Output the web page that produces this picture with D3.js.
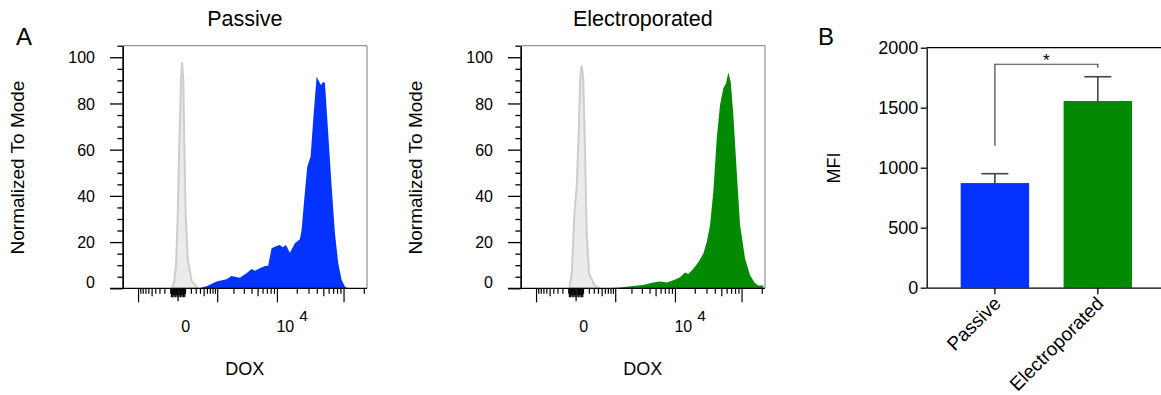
<!DOCTYPE html>
<html><head><meta charset="utf-8">
<script src="https://cdn.jsdelivr.net/npm/d3@7"></script>
<style>
body{margin:0;background:#fff}
svg{display:block}
text{font-family:"Liberation Sans",Arial,Helvetica,sans-serif;fill:#000}
</style>
</head><body>
<svg id="c" width="1161" height="395"></svg>
<script>
// ---------------- DATA ----------------
const panelTitles = ["Passive", "Electroporated"];
const histYTicks = [0, 20, 40, 60, 80, 100];
const histXLabelValues = [0, 10000];
const histXLabelBase = ["0", "10"];
const histXLabelExp = ["", "4"];

// unstained control (grey) histograms, x = DOX fluorescence, y = % of mode
const controlPassiveX = [-85, -52, -26, -5, 15, 36, 50, 68, 82, 104, 136, 206, 347];
const controlPassiveY = [0, 2.4, 9.7, 31, 63, 90, 97.8, 90, 63, 31, 12.5, 3, 0];
const controlElectroX = [-91, -57, -35, -22, -5, 7, 32, 54, 74, 97, 124, 152, 193, 317, 441];
const controlElectroY = [0, 6.5, 20.5, 32, 39, 44, 67, 91.6, 96.4, 90, 60, 24, 6.5, 0.9, 0];

// DOX-treated histograms
const passiveX = [365, 571, 946, 1101, 1474, 1813, 2071, 2522, 3260, 3930, 4442, 5335, 6393, 7199, 8128, 9706, 10903, 12000, 13460, 15490, 18440, 21920, 23250, 25190, 28240, 31760, 34720, 39030, 42700, 45260, 49000, 52000, 58170, 65410, 73220, 82000, 92160, 103200, 115600];
const passiveY = [0, 0.9, 2.9, 3.3, 3.9, 5.3, 5.0, 4.6, 6.5, 8.4, 7.6, 8.7, 9.7, 9.8, 17.3, 18.3, 18.7, 17.8, 18.7, 15.4, 19.5, 21.2, 25.2, 36.8, 52.6, 57, 72.9, 91.6, 89.4, 88, 89.4, 88.7, 67.1, 44, 23.8, 10.8, 3.6, 0.7, 0];
const electroX = [644, 1214, 2112, 3113, 4521, 5772, 7342, 9285, 11760, 14010, 15720, 18700, 22250, 26460, 29750, 33330, 37340, 41990, 47040, 52680, 57790, 62550, 67900, 74240, 83400, 93380, 110800, 131400, 155900, 174500, 207000];
const electroY = [0, 0.3, 1, 1.4, 2.5, 2.9, 2.5, 3.5, 4.8, 6.8, 6.2, 8.5, 11.3, 15, 20, 27.3, 41.7, 64.9, 79.3, 86.6, 88.7, 93.4, 89.4, 75, 50.6, 27.5, 12.9, 5.7, 2.2, 1.2, 1.2];

// panel B
const barCategories = ["Passive", "Electroporated"];
const barMeans = [872, 1556];
const barErrors = [78, 202];
const barYTicks = [0, 500, 1000, 1500, 2000];
const sigBracket = [1183, 1862, 1833]; // left leg bottom, top, right leg bottom
const sigLabel = "*";

// ---------------- STYLE ----------------
const BLUE = "#0433ff", GREEN = "#038a03";
const seriesColors = [BLUE, GREEN];
const svg = d3.select("#c");

// ---------------- PANEL A ----------------
const H = {left: 122.7, right: 367, top: 45.7, bottom: 288.3};
const panelOffsets = [0, 398];
const xs = d3.scaleSymlog().constant(350).domain([-1967, 219240]).range([H.left, H.right]);
const ys = d3.scaleLinear().domain([0, 105]).range([H.bottom, H.top]);

const xTickVals = [0];
for (const e of [1, 2, 3, 4, 5]) for (let m = 1; m <= 9; m++) {
  const v = m * 10 ** e; xTickVals.push(v); if (e <= 3) xTickVals.push(-v);
}
const xTicks = xTickVals.filter(v => v >= xs.domain()[0] && v <= xs.domain()[1]);
function xTickLen(v) {
  const a = Math.abs(v);
  if (a === 0) return 13;
  const e = Math.floor(Math.log10(a) + 1e-9), m = Math.round(a / 10 ** e);
  if (m === 1 && a >= 1000) return 14;
  if (a < 100) return m % 2 ? 9 : 7;
  return m === 5 ? 8 : 5.5;
}

const controls = [[controlPassiveX, controlPassiveY], [controlElectroX, controlElectroY]];
const samples = [[passiveX, passiveY], [electroX, electroY]];

panelOffsets.forEach((off, i) => {
  const g = svg.append("g").attr("transform", `translate(${off},0)`);
  const area = d3.area().x(d => xs(d[0])).y0(H.bottom).y1(d => ys(d[1]));
  const sData = samples[i][0].map((x, k) => [x, samples[i][1][k]]);
  const cData = controls[i][0].map((x, k) => [x, controls[i][1][k]]);
  g.append("path").datum(sData).attr("d", area).attr("fill", seriesColors[i]);
  g.append("path").datum(cData).attr("d", area).attr("fill", "#ebebeb")
    .attr("stroke", "#cdcdcd").attr("stroke-width", 2);

  // frame
  g.append("path").attr("d", `M${H.left},${H.top}H${H.right}V${H.bottom}`)
    .attr("fill", "none").attr("stroke", "#7a7a7a").attr("stroke-width", 1);

  // y axis
  const minor = d3.range(0, 106, 5).filter(v => v % 20 !== 0);
  g.append("g").attr("transform", `translate(${H.left},0)`)
    .call(d3.axisLeft(ys).tickValues(minor).tickSize(5.3).tickSizeOuter(0).tickFormat(""))
    .call(a => a.selectAll("line,path").attr("stroke", "#000").attr("stroke-width", 1.3));
  const ya = g.append("g").attr("transform", `translate(${H.left},0)`)
    .call(d3.axisLeft(ys).tickValues(histYTicks).tickSize(12.7).tickPadding(15).tickSizeOuter(0));
  ya.selectAll("line,path").attr("stroke", "#000").attr("stroke-width", 1.3);
  ya.selectAll("text").attr("font-size", 16).attr("fill", "#000")
    .style("font-family", '"Liberation Sans",Arial,sans-serif')
    .attr("dy", d => d === 0 ? "-0.02em" : "0.35em");

  // x axis
  g.append("line").attr("x1", H.left - 12.7).attr("x2", H.right)
    .attr("y1", H.bottom).attr("y2", H.bottom).attr("stroke", "#000").attr("stroke-width", 1.3);
  g.append("g").selectAll("line").data(xTicks).join("line")
    .attr("x1", d => xs(d)).attr("x2", d => xs(d))
    .attr("y1", H.bottom).attr("y2", d => H.bottom + xTickLen(d))
    .attr("stroke", "#000").attr("stroke-width", 1.2);
  histXLabelValues.forEach((v, k) => {
    const t = g.append("text").attr("font-size", 16).attr("y", 331.7);
    if (histXLabelExp[k] === "") {
      t.attr("x", xs(v) + 7.5).attr("text-anchor", "middle").text(histXLabelBase[k]);
    } else {
      t.attr("x", xs(v) - 1).attr("text-anchor", "start");
      t.append("tspan").attr("font-size", 16).text(histXLabelBase[k]);
      t.append("tspan").attr("font-size", 15.5).attr("dx", 5).attr("dy", -11).text(histXLabelExp[k]);
    }
  });

  // titles
  const cx = (H.left + H.right) / 2;
  g.append("text").attr("x", cx).attr("y", 26).attr("text-anchor", "middle")
    .attr("font-size", 21.5).text(panelTitles[i]);
  g.append("text").attr("x", cx).attr("y", 375).attr("text-anchor", "middle")
    .attr("font-size", 18).text("DOX");
  g.append("text").attr("transform", `translate(17.5,167.5) rotate(-90)`)
    .attr("text-anchor", "middle").attr("dy", "0.36em").attr("font-size", 19)
    .text("Normalized To Mode");
});

svg.append("text").attr("x", 24).attr("y", 45).attr("text-anchor", "middle")
  .attr("font-size", 24).text("A");

// ---------------- PANEL B ----------------
const B = {left: 926.7, right: 1166, top: 47.7, bottom: 287.7};
const yB = d3.scaleLinear().domain([0, 2000]).range([B.bottom, B.top]);
const xB = d3.scaleBand().domain(barCategories).range([B.left, B.right])
  .paddingInner(0.335).paddingOuter(0.33);
const gB = svg.append("g");

gB.selectAll("rect.bar").data(barCategories).join("rect").attr("class", "bar")
  .attr("x", d => xB(d)).attr("width", xB.bandwidth())
  .attr("y", (d, i) => yB(barMeans[i])).attr("height", (d, i) => yB(0) - yB(barMeans[i]))
  .attr("fill", (d, i) => seriesColors[i]);

// error bars
barCategories.forEach((c, i) => {
  const cx = xB(c) + xB.bandwidth() / 2;
  gB.append("line").attr("x1", cx).attr("x2", cx)
    .attr("y1", yB(barMeans[i])).attr("y2", yB(barMeans[i] + barErrors[i]))
    .attr("stroke", "#444").attr("stroke-width", 1.6);
  gB.append("line").attr("x1", cx - 13.5).attr("x2", cx + 13.5)
    .attr("y1", yB(barMeans[i] + barErrors[i])).attr("y2", yB(barMeans[i] + barErrors[i]))
    .attr("stroke", "#444").attr("stroke-width", 1.6);
});

// frame top line
gB.append("line").attr("x1", B.left).attr("x2", B.right)
  .attr("y1", yB(2000)).attr("y2", yB(2000)).attr("stroke", "#000").attr("stroke-width", 1.2);

const yaB = gB.append("g").attr("transform", `translate(${B.left},0)`)
  .call(d3.axisLeft(yB).tickValues(barYTicks).tickSize(6).tickPadding(2.4)
    .tickSizeOuter(0).tickFormat(d3.format("d")));
yaB.selectAll("line,path").attr("stroke", "#000").attr("stroke-width", 1.3);
yaB.selectAll("text").attr("font-size", 18).attr("fill", "#000")
  .style("font-family", '"Liberation Sans",Arial,sans-serif');

const xaB = gB.append("g").attr("transform", `translate(0,${B.bottom})`)
  .call(d3.axisBottom(xB).tickSize(6.6).tickSizeOuter(0).tickFormat(""));
xaB.selectAll("line,path").attr("stroke", "#000").attr("stroke-width", 1.3);

barCategories.forEach(c => {
  const cx = xB(c) + xB.bandwidth() / 2;
  gB.append("text").attr("transform", `translate(${cx + 7},${B.bottom + 17}) rotate(-45)`)
    .attr("text-anchor", "end").attr("font-size", 19).text(c);
});

// significance bracket
const x0 = xB(barCategories[0]) + xB.bandwidth() / 2;
const x1 = xB(barCategories[1]) + xB.bandwidth() / 2;
gB.append("path")
  .attr("d", `M${x0},${yB(sigBracket[0])}V${yB(sigBracket[1])}H${x1}V${yB(sigBracket[2])}`)
  .attr("fill", "none").attr("stroke", "#444").attr("stroke-width", 1.2);
gB.append("text").attr("x", (x0 + x1) / 2).attr("y", yB(sigBracket[1]) + 1.5)
  .attr("text-anchor", "middle").attr("font-size", 17).text(sigLabel);

gB.append("text").attr("transform", `translate(833.3,168) rotate(-90)`)
  .attr("text-anchor", "middle").attr("dy", "0.36em").attr("font-size", 18).text("MFI");
svg.append("text").attr("x", 826).attr("y", 45).attr("text-anchor", "middle")
  .attr("font-size", 24).text("B");
</script>
</body></html>
